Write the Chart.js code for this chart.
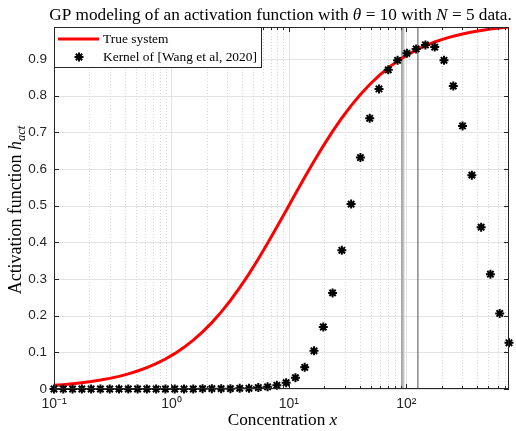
<!DOCTYPE html>
<html>
<head>
<meta charset="utf-8">
<script src="https://cdn.jsdelivr.net/npm/chart.js@4"></script>
<style>
  html, body { margin: 0; padding: 0; background: #fff; }
  #wrap { width: 516px; height: 431px; }
</style>
</head>
<body>
<div id="wrap"><canvas id="gpChart" width="516" height="431"></canvas></div>
<script>
// concentration grid (log spaced)
const xValues = [0.1, 0.12, 0.1439, 0.1727, 0.2072, 0.2485, 0.2982, 0.3577, 0.4292, 0.5149,
  0.6177, 0.7411, 0.8891, 1.067, 1.28, 1.535, 1.842, 2.21, 2.651, 3.181,
  3.816, 4.578, 5.493, 6.59, 7.906, 9.485, 11.38, 13.65, 16.38, 19.65,
  23.58, 28.28, 33.93, 40.71, 48.84, 58.6, 70.3, 84.34, 101.2, 121.4,
  145.6, 174.7, 209.6, 251.5, 301.7, 362.0, 434.3, 521.0, 625.1, 749.9];

const trueSystem = [0.0099, 0.0119, 0.0142, 0.0170, 0.0203, 0.0243, 0.0290, 0.0345, 0.0412, 0.0490,
  0.0582, 0.0690, 0.0817, 0.0964, 0.1135, 0.1331, 0.1556, 0.1810, 0.2095, 0.2413,
  0.2762, 0.3140, 0.3545, 0.3972, 0.4415, 0.4868, 0.5323, 0.5772, 0.6209, 0.6627,
  0.7022, 0.7388, 0.7724, 0.8028, 0.8300, 0.8542, 0.8755, 0.8940, 0.9101, 0.9239,
  0.9357, 0.9459, 0.9545, 0.9618, 0.9679, 0.9731, 0.9775, 0.9812, 0.9843, 0.9868];

const kernelPred = [0, 0, 0, 0, 0, 0, 0, 0, 0, 0,
  0, 0, 0, 0, 0, 0, 0.001, 0.001, 0.001, 0.001,
  0.002, 0.002, 0.004, 0.006, 0.010, 0.017, 0.031, 0.059, 0.104, 0.169,
  0.262, 0.378, 0.504, 0.631, 0.738, 0.818, 0.870, 0.896, 0.915, 0.927,
  0.938, 0.932, 0.896, 0.826, 0.717, 0.583, 0.441, 0.313, 0.206, 0.126];

// training inputs (vertical lines)
const dataX = [92, 95, 125.6];

const xTickLabels = { '-1': '10\u207B\u00B9', '0': '10\u2070', '1': '10\u00B9', '2': '10\u00B2' };
const yTickValues = [0, 0.1, 0.2, 0.3, 0.4, 0.5, 0.6, 0.7, 0.8, 0.9];
const seriesNames = ['True system', 'Kernel of [Wang et al, 2020]'];

const SERIF = '"Liberation Serif", "DejaVu Serif", serif';
const SANS = '"Liberation Sans", Arial, sans-serif';
const AXIS_COLOR = '#262626';

function isPow10(v) {
  const l = Math.log10(v);
  return Math.abs(l - Math.round(l)) < 1e-6;
}
function isNiceLog(v) {
  const m = v / Math.pow(10, Math.floor(Math.log10(v) + 1e-9));
  return Math.abs(m - Math.round(m)) < 1e-6;
}

// draw text made of runs (italic / subscript) centred on cx
function runsFont(r, size) {
  const s = r.sub ? size * 0.7 : size;
  return (r.it ? 'italic ' : '') + s.toFixed(2) + 'px ' + SERIF;
}
function runsWidth(ctx, runs, size) {
  let w = 0;
  runs.forEach(r => { ctx.font = runsFont(r, size); w += ctx.measureText(r.t).width; });
  return w;
}
function fitSize(ctx, runs, target) {
  return 10 * target / runsWidth(ctx, runs, 10);
}
function drawRuns(ctx, runs, cx, baseline, size) {
  let x = cx - runsWidth(ctx, runs, size) / 2;
  ctx.textAlign = 'left';
  ctx.textBaseline = 'alphabetic';
  runs.forEach(r => {
    ctx.font = runsFont(r, size);
    ctx.fillText(r.t, x, baseline + (r.sub ? size * 0.25 : 0));
    x += ctx.measureText(r.t).width;
  });
}

const framePlugin = {
  id: 'frame',
  beforeDatasetsDraw(chart) {
    const { ctx, chartArea: a, scales: { x, y } } = chart;
    ctx.save();
    // grid
    x.ticks.forEach(t => {
      if (!isNiceLog(t.value)) return;
      const px = Math.round(x.getPixelForValue(t.value)) + 0.5;
      ctx.beginPath();
      if (isPow10(t.value)) {
        ctx.strokeStyle = '#e3e3e3';
        ctx.setLineDash([]);
      } else {
        ctx.strokeStyle = '#d6d6d6';
        ctx.setLineDash([1, 2]);
      }
      ctx.lineWidth = 1;
      ctx.moveTo(px, a.top);
      ctx.lineTo(px, a.bottom);
      ctx.stroke();
    });
    ctx.setLineDash([]);
    yTickValues.forEach(v => {
      const py = Math.round(y.getPixelForValue(v)) + 0.5;
      ctx.beginPath();
      ctx.strokeStyle = '#e3e3e3';
      ctx.lineWidth = 1;
      ctx.moveTo(a.left, py);
      ctx.lineTo(a.right, py);
      ctx.stroke();
    });
    // training inputs
    const lineCols = ['#808080', '#c4c4c4', '#808080'];
    const lineW = [1.3, 1.6, 1.4];
    dataX.forEach((v, i) => {
      const px = x.getPixelForValue(v);
      ctx.beginPath();
      ctx.strokeStyle = lineCols[i];
      ctx.lineWidth = lineW[i];
      ctx.moveTo(px, a.top);
      ctx.lineTo(px, a.bottom);
      ctx.stroke();
    });
    ctx.restore();
  },
  afterDraw(chart) {
    const { ctx, chartArea: a, scales: { x, y } } = chart;
    ctx.save();
    // box
    ctx.strokeStyle = AXIS_COLOR;
    ctx.lineWidth = 1;
    ctx.strokeRect(a.left + 0.5, a.top + 0.5, a.right - a.left - 1, a.bottom - a.top - 1);
    // inner ticks
    ctx.beginPath();
    x.ticks.forEach(t => {
      if (!isNiceLog(t.value)) return;
      const px = Math.round(x.getPixelForValue(t.value)) + 0.5;
      const len = isPow10(t.value) ? 5 : 3;
      ctx.moveTo(px, a.bottom); ctx.lineTo(px, a.bottom - len);
      ctx.moveTo(px, a.top); ctx.lineTo(px, a.top + len);
    });
    yTickValues.forEach(v => {
      const py = Math.round(y.getPixelForValue(v)) + 0.5;
      ctx.moveTo(a.left, py); ctx.lineTo(a.left + 5, py);
      ctx.moveTo(a.right, py); ctx.lineTo(a.right - 5, py);
    });
    ctx.stroke();

    // title
    const titleRuns = [
      { t: 'GP modeling of an activation function with ' }, { t: '\u03B8', it: true },
      { t: ' = 10 with ' }, { t: 'N', it: true }, { t: ' = 5 data.' }
    ];
    const labelSize = fitSize(ctx, titleRuns, 463);
    ctx.fillStyle = '#000';
    drawRuns(ctx, titleRuns, 280.5, 19.5, labelSize);

    // legend
    const lx = a.left + 0.5, ly = a.top + 0.5, lw = 207, lh = 40;
    ctx.fillStyle = '#fff';
    ctx.fillRect(lx, ly, lw, lh);
    ctx.strokeStyle = AXIS_COLOR;
    ctx.lineWidth = 1;
    ctx.strokeRect(lx, ly, lw, lh);
    ctx.beginPath();
    ctx.strokeStyle = '#ff0000';
    ctx.lineWidth = 3;
    ctx.moveTo(a.left + 4, a.top + 12);
    ctx.lineTo(a.left + 45, a.top + 12);
    ctx.stroke();
    ctx.strokeStyle = '#000';
    ctx.fillStyle = '#000';
    ctx.lineWidth = 2;
    Chart.helpers.drawPoint(ctx, { pointStyle: 'star', radius: 4.5, rotation: 0, borderWidth: 2 },
      a.left + 25, a.top + 30);
    ctx.fillStyle = '#000';
    const legSize = fitSize(ctx, [{ t: seriesNames[1] }], 154);
    ctx.textAlign = 'left';
    ctx.textBaseline = 'middle';
    ctx.font = legSize.toFixed(2) + 'px ' + SERIF;
    ctx.fillText(seriesNames[0], a.left + 49, a.top + 12);
    ctx.fillText(seriesNames[1], a.left + 49, a.top + 30);

    // x label
    ctx.fillStyle = '#000';
    const xRuns = [{ t: 'Concentration ' }, { t: 'x', it: true }];
    drawRuns(ctx, xRuns, 282.5, 425, labelSize);

    // y label
    const yRuns = [{ t: 'Activation function ' }, { t: 'h', it: true }, { t: 'act', it: true, sub: true }];
    ctx.translate(20.5, 210);
    ctx.rotate(-Math.PI / 2);
    drawRuns(ctx, yRuns, 0, 0, labelSize * 1.04);
    ctx.restore();
  }
};

new Chart(document.getElementById('gpChart'), {
  type: 'scatter',
  data: {
    datasets: [
      {
        label: seriesNames[0],
        data: xValues.map((v, i) => ({ x: v, y: trueSystem[i] })),
        showLine: true,
        borderColor: '#ff0000',
        borderWidth: 3,
        pointRadius: 0,
        tension: 0,
        order: 1
      },
      {
        label: seriesNames[1],
        data: xValues.map((v, i) => ({ x: v, y: kernelPred[i] })),
        pointStyle: 'star',
        pointRadius: 4.5,
        borderWidth: 2,
        borderColor: '#000',
        backgroundColor: '#000',
        clip: false,
        order: 0
      }
    ]
  },
  options: {
    responsive: false,
    animation: false,
    events: [],
    layout: { padding: { left: 0, right: 6, top: 27, bottom: 0 } },
    plugins: { legend: { display: false }, title: { display: false }, tooltip: { enabled: false } },
    scales: {
      x: {
        type: 'logarithmic',
        min: 0.1,
        max: 749.9,
        grid: { display: false, drawTicks: false },
        border: { display: false },
        afterFit(scale) { scale.height = 42; },
        ticks: {
          autoSkip: false,
          maxRotation: 0,
          padding: 7,
          color: AXIS_COLOR,
          font: { family: SANS, size: 14 },
          callback(v) {
            if (!isPow10(v)) return '';
            return xTickLabels[String(Math.round(Math.log10(v)))] || '';
          }
        }
      },
      y: {
        type: 'linear',
        min: 0,
        max: 0.9868,
        grid: { display: false, drawTicks: false },
        border: { display: false },
        afterFit(scale) { scale.width = 54; },
        afterBuildTicks(scale) {
          scale.ticks = yTickValues.map(v => ({ value: v }));
        },
        ticks: {
          padding: 7,
          color: AXIS_COLOR,
          font: { family: SANS, size: 13.5 },
          callback(v) { return String(Math.round(v * 10) / 10); }
        }
      }
    }
  },
  plugins: [framePlugin]
});
</script>
</body>
</html>
